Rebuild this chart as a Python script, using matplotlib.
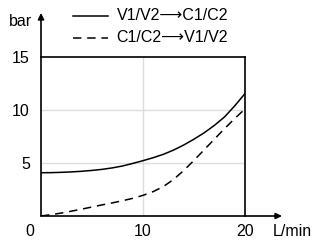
import matplotlib
matplotlib.use("Agg")
import matplotlib.pyplot as plt

debit = [0, 1, 2, 3, 4, 5, 6, 7, 8, 9, 10, 11, 12, 13, 14, 15, 16, 17, 18, 19, 20]
v_vers_c = [4.08, 4.09, 4.12, 4.16, 4.22, 4.3, 4.4, 4.54, 4.72, 4.96, 5.22,
            5.5, 5.82, 6.22, 6.7, 7.25, 7.85, 8.55, 9.35, 10.4, 11.55]
c_vers_v = [0.0, 0.13, 0.28, 0.46, 0.65, 0.85, 1.05, 1.24, 1.44, 1.67, 1.95,
            2.3, 2.78, 3.45, 4.3, 5.25, 6.25, 7.25, 8.25, 9.2, 10.1]

label_1 = "V1/V2\u27f6C1/C2"
label_2 = "C1/C2\u27f6V1/V2"

plt.rcParams['font.family'] = ['Liberation Sans', 'DejaVu Sans']

W, H = 316, 241
fig = plt.figure(figsize=(W / 100, H / 100), dpi=100)
ax = fig.add_axes([41 / W, (H - 216) / H, (245 - 41) / W, (216 - 57) / H])
ax.set_xlim(0, 20)
ax.set_ylim(0, 15)

tirets = (0, (5.5, 3.8))
ax.plot(debit, v_vers_c, color='black', lw=1.1, label=label_1)
ax.plot(debit, c_vers_v, color='black', lw=1.1, ls=tirets, label=label_2)

# grille
for xv in [10]:
    ax.axvline(xv, color='#dddddd', lw=1.0, zorder=0)
for yv in [5, 10]:
    ax.axhline(yv, color='#dddddd', lw=1.0, zorder=0)

for s in ['top', 'right']:
    ax.spines[s].set_linewidth(1.2)
for s in ['left', 'bottom']:
    ax.spines[s].set_visible(False)

# axes avec fleches
ax.annotate('', xy=(41, H - 13), xytext=(41, H - 216), xycoords='figure pixels',
            arrowprops=dict(arrowstyle='-|>', color='black', lw=1.2,
                            mutation_scale=9, shrinkA=0, shrinkB=0))
ax.annotate('', xy=(282, H - 216), xytext=(41, H - 216), xycoords='figure pixels',
            arrowprops=dict(arrowstyle='-|>', color='black', lw=1.2,
                            mutation_scale=9, shrinkA=0, shrinkB=0))

ax.tick_params(length=0, labelsize=11.5)
ax.set_xticks([10, 20])
ax.set_yticks([5, 10, 15])
ax.tick_params(axis='y', pad=8)
ax.tick_params(axis='x', pad=6)
fig.text(30 / W, 1 - 232 / H, "0", fontsize=11.5, ha='center', va='center')
fig.text(20 / W, 1 - 22 / H, "bar", fontsize=11.5, ha='center', va='center')
fig.text(273 / W, 1 - 232 / H, "L/min", fontsize=11.5, ha='left', va='center')

# legende
fig.lines.append(plt.Line2D([73 / W, 108 / W], [1 - 16 / H, 1 - 16 / H],
                            color='black', lw=1.1, transform=fig.transFigure))
fig.lines.append(plt.Line2D([73 / W, 108 / W], [1 - 38 / H, 1 - 38 / H],
                            color='black', lw=1.1, ls=tirets, transform=fig.transFigure))
fig.text(117 / W, 1 - 16 / H, label_1, fontsize=11.5, ha='left', va='center')
fig.text(116 / W, 1 - 38 / H, label_2, fontsize=11.5, ha='left', va='center')

fig.savefig("out.png", dpi=100)
